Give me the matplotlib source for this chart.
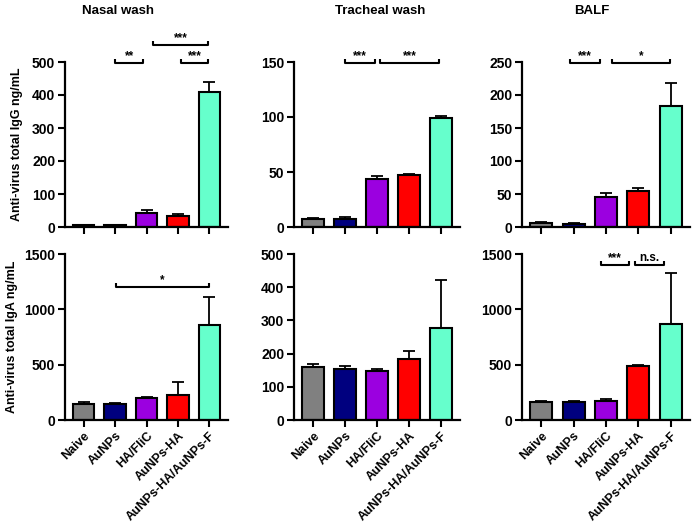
import numpy as np
import matplotlib.pyplot as plt

plt.rcParams['font.family'] = ['Liberation Sans', 'DejaVu Sans']
plt.rcParams['font.weight'] = 'bold'

groups = ['Naive', 'AuNPs', 'HA/FliC', 'AuNPs-HA', 'AuNPs-HA/AuNPs-F']
colors = ['#808080', '#00007f', '#9b00e0', '#ff0000', '#66ffcc']
titles = ['Nasal wash', 'Tracheal wash', 'BALF']

# IgG (top row)
igg_nasal = [5, 5, 43, 33, 410]
igg_nasal_err = [2, 2, 8, 7, 30]
igg_trach = [7, 7.5, 44, 47, 99]
igg_trach_err = [1, 1.5, 2, 1, 2]
igg_balf = [6, 5, 45, 54, 183]
igg_balf_err = [2, 1.5, 6, 5, 35]

# IgA (bottom row)
iga_nasal = [145, 145, 195, 230, 860]
iga_nasal_err = [20, 10, 15, 115, 250]
iga_trach = [160, 155, 148, 185, 278]
iga_trach_err = [10, 7, 7, 22, 143]
iga_balf = [160, 162, 175, 488, 865]
iga_balf_err = [15, 10, 12, 12, 465]

ylims = [[500, 150, 250], [1500, 500, 1500]]
ysteps = [[100, 50, 50], [500, 100, 500]]

# significance brackets: (x start, x end, y, label)
sig = {
    (0, 0): [(1.0, 1.9, 497, '**'), (2.2, 3.97, 551, '***'), (3.1, 3.97, 497, '***')],
    (0, 1): [(1.0, 1.95, 149, '***'), (2.1, 3.95, 149, '***')],
    (0, 2): [(0.9, 1.8, 248, '***'), (2.2, 3.97, 248, '*')],
    (1, 0): [(1.03, 4.0, 1202, '*')],
    (1, 1): [],
    (1, 2): [(1.83, 2.7, 1400, '***'), (2.9, 3.8, 1400, 'n.s.')],
}

data = [[(igg_nasal, igg_nasal_err), (igg_trach, igg_trach_err), (igg_balf, igg_balf_err)],
        [(iga_nasal, iga_nasal_err), (iga_trach, iga_trach_err), (iga_balf, iga_balf_err)]]

W, H = 693, 526
fig = plt.figure(figsize=(W / 100, H / 100), dpi=100)

col_x = [(65, 228), (294, 460), (522, 690)]
row_y = [(62, 227), (254, 420)]

x = np.arange(len(groups))
for r in range(2):
    for c in range(3):
        x0, x1 = col_x[c]
        y0, y1 = row_y[r]
        ax = fig.add_axes([x0 / W, 1 - y1 / H, (x1 - x0) / W, (y1 - y0) / H])
        vals, err = data[r][c]
        ax.bar(x, vals, width=0.68, color=colors, edgecolor='black', linewidth=1.5, zorder=2)
        ax.errorbar(x, vals, yerr=[np.zeros(len(vals)), err], fmt='none',
                    ecolor='black', elinewidth=1.3, capsize=4, capthick=1.3, zorder=1)
        ax.set_xlim(-0.6, 4.6)
        ax.set_ylim(0, ylims[r][c])
        ax.set_yticks(np.arange(0, ylims[r][c] + 1, ysteps[r][c]))
        for s in ['top', 'right']:
            ax.spines[s].set_visible(False)
        for s in ['left', 'bottom']:
            ax.spines[s].set_linewidth(1.6)
        ax.tick_params(width=1.5, length=5, labelsize=10, pad=2)
        ax.set_xticks(x)
        if r == 1:
            ax.set_xticklabels(groups, rotation=45, ha='right', rotation_mode='anchor', fontsize=9)
        else:
            ax.set_xticklabels([])
        for t in ax.get_yticklabels():
            t.set_fontweight('bold')
        for xa, xb, yv, lab in sig[(r, c)]:
            h = ylims[r][c] * 0.025
            ax.plot([xa, xa, xb, xb], [yv + h, yv, yv, yv + h], color='black', lw=1.5,
                    clip_on=False, solid_capstyle='butt')
            ax.text((xa + xb) / 2, yv + h * 0.2, lab, ha='center', va='bottom',
                    fontsize=8.5, fontweight='bold')
        if c == 0:
            ax.set_ylabel('Anti-virus total IgG ng/mL' if r == 0 else 'Anti-virus total IgA ng/mL',
                          fontsize=9, fontweight='bold')
            ax.yaxis.set_label_coords(-0.26 if r == 0 else -0.29, 0.5)

title_x = [118, 380, 592]
for t, tx in zip(titles, title_x):
    fig.text(tx / W, 1 - 11 / H, t, ha='center', va='center', fontsize=9.5, fontweight='bold')

fig.savefig('out.png', dpi=100)
